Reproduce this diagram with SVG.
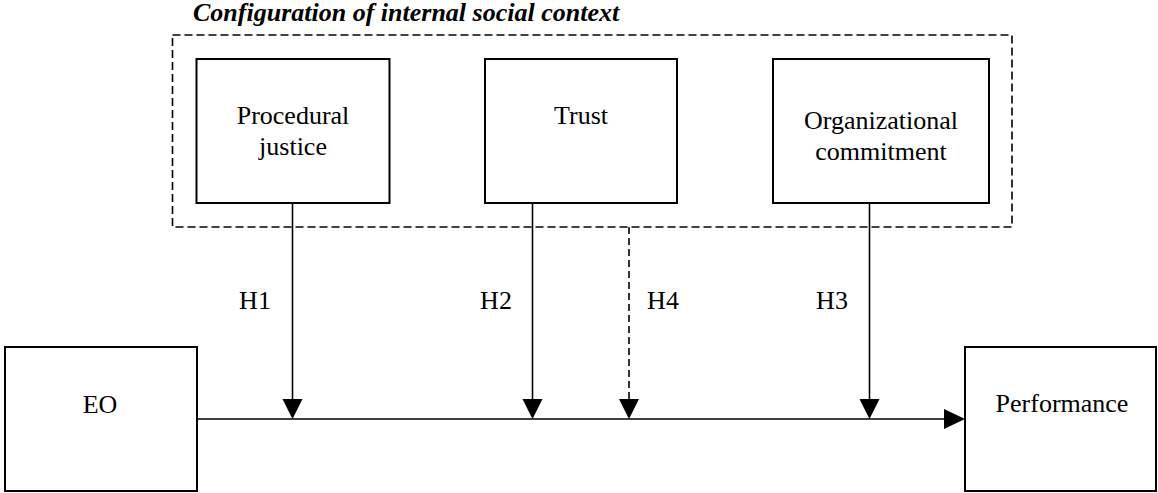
<svg xmlns="http://www.w3.org/2000/svg" width="1158" height="493" viewBox="0 0 1158 493">
<style>
  .box { fill: #fff; stroke: #000; stroke-width: 2; }
  .frame { fill: none; stroke: #000; stroke-width: 1.6; stroke-dasharray: 8 4; }
  .txt { font-family: "Liberation Serif", "Times New Roman", serif; font-size: 26px; fill: #000; text-anchor: middle; }
  .title { font-family: "Liberation Serif", "Times New Roman", serif; font-size: 26px; font-weight: bold; font-style: italic; fill: #000; }
  .ln { stroke: #000; stroke-width: 1.6; fill: none; }
  .dln { stroke: #000; stroke-width: 1.6; fill: none; stroke-dasharray: 7 4; }
  .head { fill: #000; }
</style>
<rect width="1158" height="493" fill="#fff"/>
<g id="context">
  <rect class="frame" x="172.5" y="35" width="839.5" height="192"/>
  <text class="title" x="193" y="21">Configuration of internal social context</text>
</g>
<g id="procedural-justice">
  <rect class="box" x="196.5" y="59" width="193" height="144"/>
  <text class="txt" x="293" y="124">Procedural</text>
  <text class="txt" x="293" y="155">justice</text>
</g>
<g id="trust">
  <rect class="box" x="485" y="59" width="192" height="144"/>
  <text class="txt" x="581" y="124">Trust</text>
</g>
<g id="organizational-commitment">
  <rect class="box" x="773" y="59" width="216" height="144"/>
  <text class="txt" x="881" y="129">Organizational</text>
  <text class="txt" x="881" y="160">commitment</text>
</g>
<g id="eo">
  <rect class="box" x="5" y="347" width="192" height="144"/>
  <text class="txt" x="100" y="413">EO</text>
</g>
<g id="performance">
  <rect class="box" x="965" y="347" width="191" height="144"/>
  <text class="txt" x="1062" y="412">Performance</text>
</g>
<g id="connectors">
  <line class="ln" x1="197" y1="419" x2="946" y2="419"/>
  <polygon class="head" points="944,409 965,419 944,429"/>
  <line class="ln" x1="292.5" y1="203" x2="292.5" y2="401"/>
  <polygon class="head" points="282.5,399 302.5,399 292.5,419"/>
  <line class="ln" x1="532.5" y1="203" x2="532.5" y2="401"/>
  <polygon class="head" points="522.5,399 542.5,399 532.5,419"/>
  <line class="dln" x1="629" y1="227" x2="629" y2="401"/>
  <polygon class="head" points="619,399 639,399 629,419"/>
  <line class="ln" x1="869.5" y1="203" x2="869.5" y2="401"/>
  <polygon class="head" points="859.5,399 879.5,399 869.5,419"/>
  <text class="txt" x="255" y="309">H1</text>
  <text class="txt" x="496" y="309">H2</text>
  <text class="txt" x="663" y="309">H4</text>
  <text class="txt" x="832" y="309">H3</text>
</g>
</svg>
